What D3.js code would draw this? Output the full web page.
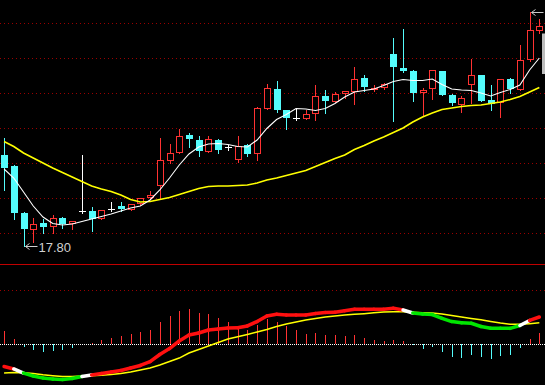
<!DOCTYPE html>
<html><head><meta charset="utf-8">
<script src="https://cdn.jsdelivr.net/npm/d3@7"></script>
<style>html,body{margin:0;padding:0;background:#000;overflow:hidden}svg{display:block}</style>
</head><body><svg id="c" width="545" height="385"></svg>
<script>
// ---- data ----
const open  = [19.63,19.41,18.47,18.12,18.27,18.19,18.37,18.25,18.52,18.51,18.35,18.56,18.60,18.54,18.65,18.76,19.02,19.52,19.68,20.03,19.93,19.70,19.93,19.78,19.54,19.83,19.64,20.56,20.94,20.53,20.38,20.36,20.44,20.81,20.70,20.86,20.90,21.18,20.95,20.98,21.65,21.38,21.31,20.88,20.94,21.30,20.83,20.63,21.04,21.23,20.73,20.66,21.15,20.93,21.53,22.10];
const high  = [19.97,19.43,18.49,18.37,18.35,18.43,18.39,18.31,19.63,18.59,18.53,18.70,18.69,18.65,18.77,18.91,19.97,19.85,20.15,20.07,20.01,20.01,19.94,19.83,20.01,19.85,20.59,21.05,21.10,20.53,20.56,20.54,21.03,20.92,20.90,20.91,21.40,21.23,21.04,21.07,21.96,22.16,21.33,20.98,21.33,21.30,20.86,20.81,21.55,21.23,21.03,21.15,21.18,21.83,22.50,22.35];
const low   = [18.93,18.35,17.80,17.89,18.07,18.07,18.17,18.15,18.46,18.11,18.34,18.51,18.51,18.54,18.63,18.76,18.75,19.47,19.67,19.78,19.60,19.69,19.68,19.73,19.48,19.60,19.54,20.56,20.50,20.16,20.34,20.36,20.34,20.46,20.69,20.76,20.64,20.91,20.91,20.94,20.32,21.29,20.72,20.43,20.75,20.83,20.63,20.50,20.68,20.72,20.53,20.40,20.88,20.93,21.51,22.08];
const close = [19.37,18.47,18.15,18.25,18.19,18.37,18.25,18.30,18.52,18.35,18.53,18.56,18.55,18.64,18.76,18.83,19.53,19.66,20.01,19.95,19.72,19.94,19.73,19.78,19.81,19.65,20.58,20.98,20.53,20.38,20.38,20.44,20.81,20.72,20.85,20.91,21.16,21.00,20.98,21.06,21.40,21.30,20.88,20.93,21.33,20.83,20.68,20.76,21.23,20.72,20.64,21.14,20.94,21.54,22.13,22.21];
const ma5   = [19.35,19.17,18.89,18.61,18.39,18.26,18.23,18.25,18.30,18.35,18.40,18.45,18.51,18.57,18.61,18.73,18.93,19.17,19.43,19.65,19.79,19.85,19.86,19.84,19.80,19.79,19.93,20.16,20.34,20.44,20.56,20.55,20.52,20.56,20.66,20.79,20.89,20.92,20.95,21.02,21.10,21.14,21.12,21.12,21.15,21.04,20.95,20.93,20.92,20.87,20.81,20.88,20.94,21.03,21.33,21.57];
const ma20  = [19.90,19.80,19.67,19.57,19.47,19.37,19.28,19.19,19.10,19.01,18.95,18.90,18.83,18.74,18.69,18.70,18.74,18.78,18.84,18.90,18.96,19.00,19.01,19.01,19.02,19.03,19.07,19.13,19.17,19.22,19.27,19.32,19.40,19.48,19.56,19.63,19.74,19.82,19.91,19.99,20.08,20.17,20.29,20.39,20.47,20.54,20.57,20.60,20.62,20.63,20.66,20.69,20.74,20.80,20.89,20.98];
const dif   = [-0.208,-0.231,-0.269,-0.296,-0.315,-0.324,-0.329,-0.319,-0.301,-0.287,-0.273,-0.259,-0.245,-0.222,-0.199,-0.164,-0.097,-0.042,0.028,0.083,0.102,0.130,0.139,0.148,0.151,0.167,0.208,0.259,0.275,0.269,0.269,0.269,0.282,0.292,0.294,0.307,0.321,0.321,0.321,0.321,0.331,0.315,0.287,0.278,0.273,0.238,0.208,0.197,0.192,0.162,0.145,0.145,0.145,0.171,0.218,0.250];
const dea   = [-0.269,-0.264,-0.267,-0.273,-0.285,-0.294,-0.301,-0.301,-0.296,-0.293,-0.289,-0.282,-0.273,-0.259,-0.241,-0.222,-0.194,-0.162,-0.130,-0.083,-0.051,-0.019,0.014,0.046,0.067,0.088,0.111,0.134,0.162,0.185,0.204,0.222,0.236,0.250,0.259,0.269,0.275,0.281,0.289,0.296,0.299,0.299,0.294,0.290,0.287,0.278,0.264,0.250,0.236,0.224,0.208,0.194,0.183,0.182,0.188,0.196];
const macdHist = [0.120,0.046,-0.025,-0.056,-0.071,-0.065,-0.056,-0.034,-0.010,0.005,0.037,0.056,0.077,0.093,0.111,0.130,0.206,0.259,0.306,0.324,0.290,0.278,0.241,0.206,0.167,0.130,0.176,0.231,0.206,0.170,0.130,0.093,0.105,0.083,0.083,0.074,0.083,0.056,0.037,0.028,0.037,0.028,-0.005,-0.046,-0.025,-0.071,-0.117,-0.127,-0.102,-0.117,-0.136,-0.108,-0.099,-0.034,0.046,0.102];
const priceGrid = [18.07,18.77,19.47,20.17,20.87,21.57,22.27];
const macdGrid = [0.5];
const infoPanel = {top: 22.06, bottom: 21.25};

// ---- layout ----
const W = 545, H = 385;
const PRICE_TOP = 0, PRICE_BOTTOM = 264;
const N = close.length;
const idx = d3.range(N);
const svg = d3.select("#c");
svg.append("rect").attr("width", W).attr("height", H).attr("fill", "#000");

const x = d3.scaleBand().domain(idx).range([-0.8, W - 0.8]).padding(0);
const cx = i => x(i) + x.bandwidth() / 2;
const y = d3.scaleLinear().domain([17.45, 22.73]).range([PRICE_BOTTOM, PRICE_TOP]);
const ym = d3.scaleLinear().domain([0, 0.5]).range([344, 290]);

const RED = "#ff3232", CYAN = "#54fcfc", WHITE = "#ffffff", YEL = "#ffff00", GRN = "#00e600";
const GRID = "#9a0000";

// grid
const grid = svg.append("g").attr("shape-rendering", "crispEdges");
grid.selectAll("line.pg").data(priceGrid).join("line")
  .attr("x1", 0).attr("x2", W)
  .attr("y1", d => Math.round(y(d)) + 0.5).attr("y2", d => Math.round(y(d)) + 0.5)
  .attr("stroke", GRID).attr("stroke-dasharray", "1,3");
grid.selectAll("line.mg").data(macdGrid).join("line")
  .attr("x1", 0).attr("x2", W)
  .attr("y1", d => Math.round(ym(d)) + 0.5).attr("y2", d => Math.round(ym(d)) + 0.5)
  .attr("stroke", GRID).attr("stroke-dasharray", "1,3");
grid.append("line").attr("x1", 0).attr("x2", W)
  .attr("y1", PRICE_BOTTOM + 0.5).attr("y2", PRICE_BOTTOM + 0.5)
  .attr("stroke", "#c00000");

// candles
const cg = svg.append("g").attr("shape-rendering", "crispEdges");
idx.forEach(i => {
  const c = Math.round(cx(i));
  const o = open[i], cl = close[i];
  const doji = o === cl, up = cl > o;
  const col = doji ? WHITE : (up ? RED : CYAN);
  const yT = Math.round(y(Math.max(o, cl))), yB = Math.round(y(Math.min(o, cl)));
  cg.append("line").attr("x1", c + 0.5).attr("x2", c + 0.5)
    .attr("y1", Math.round(y(high[i]))).attr("y2", Math.round(y(low[i])) + 1)
    .attr("stroke", col);
  if (doji) {
    cg.append("line").attr("x1", c - 3).attr("x2", c + 4)
      .attr("y1", yT + 0.5).attr("y2", yT + 0.5).attr("stroke", col);
  } else if (up) {
    cg.append("rect").attr("x", c - 3 + 0.5).attr("y", yT + 0.5)
      .attr("width", 6).attr("height", Math.max(1, yB - yT - 1))
      .attr("fill", "#000").attr("stroke", col);
  } else {
    cg.append("rect").attr("x", c - 3).attr("y", yT)
      .attr("width", 7).attr("height", Math.max(1, yB - yT))
      .attr("fill", col);
  }
});

// moving averages
const lineP = arr => d3.line().x((d, i) => cx(i)).y(d => y(d))(arr);
svg.append("path").attr("d", lineP(ma20)).attr("fill", "none").attr("stroke", YEL).attr("stroke-width", 1.6);
svg.append("path").attr("d", lineP(ma5)).attr("fill", "none").attr("stroke", WHITE).attr("stroke-width", 1.1);

// min / max markers
const fmt = d3.format(".2f");
function priceMark(i, val, color, withText) {
  const c = Math.round(cx(i)) + 1.5, yy = Math.round(y(val)) + 0.5;
  const g = svg.append("g");
  g.append("path").attr("d", `M${c},${yy}H${c + 12}M${c},${yy}l4,-3M${c},${yy}l4,3`)
    .attr("stroke", color).attr("fill", "none").attr("stroke-width", 1);
  if (withText) {
    g.append("text").attr("x", c + 13).attr("y", yy + 5)
      .attr("fill", color).attr("font-family", "Liberation Sans, Arial, sans-serif")
      .attr("font-size", 13).text(fmt(val));
  }
}
const iMin = d3.minIndex(low), iMax = d3.maxIndex(high);
priceMark(iMin, low[iMin], "#d0d0d0", true);
priceMark(iMax, high[iMax], "#c8c8c8", false);

// info panel edge (top-right)
svg.append("rect").attr("x", W - 3).attr("width", 3)
  .attr("y", y(infoPanel.top)).attr("height", y(infoPanel.bottom) - y(infoPanel.top))
  .attr("fill", "#bdbdbd");

// MACD histogram
const hg = svg.append("g").attr("shape-rendering", "crispEdges");
idx.forEach(i => {
  const c = Math.round(cx(i)) + 0.5;
  hg.append("line").attr("x1", c).attr("x2", c)
    .attr("y1", ym(0)).attr("y2", ym(macdHist[i]))
    .attr("stroke", macdHist[i] >= 0 ? RED : CYAN);
});
// zero line
svg.append("line").attr("x1", 0).attr("x2", W)
  .attr("y1", Math.round(ym(0)) + 0.5).attr("y2", Math.round(ym(0)) + 0.5)
  .attr("stroke", WHITE).attr("stroke-dasharray", "1,1").attr("shape-rendering", "crispEdges");

// DEA
const lineM = arr => d3.line().x((d, i) => cx(i)).y(d => ym(d))(arr);
svg.append("path").attr("d", lineM(dea)).attr("fill", "none").attr("stroke", YEL).attr("stroke-width", 1.5);
// DIF coloured by histogram sign
const dg = svg.append("g");
for (let i = 0; i < N - 1; i++) {
  const a = macdHist[i], b = macdHist[i + 1];
  const col = (a > 0 && b > 0) ? "#ff1010" : (a < 0 && b < 0) ? GRN : WHITE;
  dg.append("line").attr("x1", cx(i)).attr("y1", ym(dif[i]))
    .attr("x2", cx(i + 1)).attr("y2", ym(dif[i + 1]))
    .attr("stroke", col).attr("stroke-width", 3.5).attr("stroke-linecap", "round");
}
</script>
</body></html>
